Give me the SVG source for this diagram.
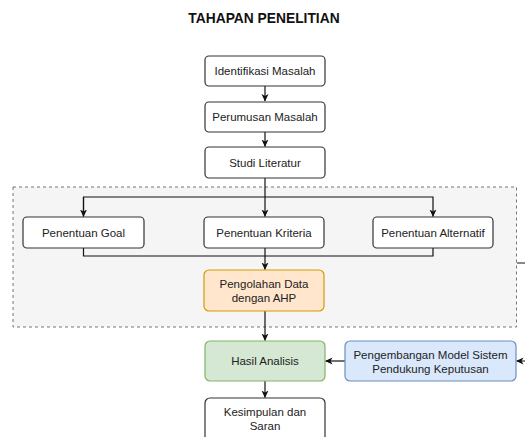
<svg xmlns="http://www.w3.org/2000/svg" width="525" height="437" viewBox="0 0 525 437">
<defs>
<marker id="arr" markerWidth="8" markerHeight="8" refX="7" refY="4" orient="auto" markerUnits="userSpaceOnUse">
<path d="M0,0.5 L7.5,4 L0,7.5 L2,4 Z" fill="#111"/>
</marker>
<style>
.box{fill:#ffffff;stroke:#333;stroke-width:1.2}
.t{font-family:"Liberation Sans",Arial,sans-serif;font-size:11.5px;fill:#222;text-anchor:middle;dominant-baseline:central}
.c{fill:none;stroke:#111;stroke-width:1.2}
</style>
</defs>
<rect width="525" height="437" fill="#ffffff"/>
<text x="264" y="22.5" font-family="'Liberation Sans',Arial,sans-serif" font-size="13.8" font-weight="bold" fill="#111" text-anchor="middle">TAHAPAN PENELITIAN</text>
<g id="container">
<rect x="13" y="187" width="503.5" height="140" fill="#f5f5f5" stroke="#777" stroke-width="1" stroke-dasharray="3,3"/>
</g>
<g id="connectors">
<path class="c" d="M265,86 V101" marker-end="url(#arr)"/>
<path class="c" d="M265,132 V146.5" marker-end="url(#arr)"/>
<path class="c" d="M265,178 V216.5" marker-end="url(#arr)"/>
<path class="c" d="M83.5,216.5 V197 H433 V216.5" marker-end="url(#arr)"/>
<path class="c" d="M83.5,197 V216.5" marker-end="url(#arr)"/>
<path class="c" d="M83.5,248 V256 H433 V248"/>
<path class="c" d="M265,248 V269.5" marker-end="url(#arr)"/>
<path class="c" d="M265,311 V340.5" marker-end="url(#arr)"/>
<path class="c" d="M345,361 H325.5" marker-end="url(#arr)"/>
<path class="c" d="M265,381 V397.5" marker-end="url(#arr)"/>
<path class="c" d="M517,263 H535 V361 H516.5" marker-end="url(#arr)"/>
</g>
<g id="n1"><rect class="box" x="205" y="56" width="120" height="30" rx="4"/><text class="t" x="265" y="71">Identifikasi Masalah</text></g>
<g id="n2"><rect class="box" x="205" y="102" width="120" height="30" rx="4"/><text class="t" x="265" y="117">Perumusan Masalah</text></g>
<g id="n3"><rect class="box" x="205" y="147" width="120" height="31" rx="4"/><text class="t" x="265" y="162.5">Studi Literatur</text></g>
<g id="n4"><rect class="box" x="23" y="217" width="121" height="31" rx="4"/><text class="t" x="83.5" y="232.5">Penentuan Goal</text></g>
<g id="n5"><rect class="box" x="204" y="217" width="120" height="31" rx="4"/><text class="t" x="264" y="232.5">Penentuan Kriteria</text></g>
<g id="n6"><rect class="box" x="373" y="217" width="120" height="31" rx="4"/><text class="t" x="433" y="232.5">Penentuan Alternatif</text></g>
<g id="n7"><rect x="204" y="270" width="120" height="41" rx="5" fill="#ffe6cc" stroke="#d79b00" stroke-width="1.2"/><text class="t" x="264" y="284">Pengolahan Data</text><text class="t" x="264" y="298">dengan AHP</text></g>
<g id="n8"><rect x="205" y="341" width="120" height="40" rx="5" fill="#d5e8d4" stroke="#82b366" stroke-width="1.2"/><text class="t" x="265" y="361">Hasil Analisis</text></g>
<g id="n9"><rect x="345" y="341" width="171" height="40" rx="5" fill="#dae8fc" stroke="#6c8ebf" stroke-width="1.2"/><text class="t" x="430.5" y="355">Pengembangan Model Sistem</text><text class="t" x="430.5" y="368.5">Pendukung Keputusan</text></g>
<g id="n10"><rect class="box" x="205" y="398" width="120" height="44" rx="5"/><text class="t" x="265" y="412">Kesimpulan dan</text><text class="t" x="265" y="426">Saran</text></g>
</svg>
